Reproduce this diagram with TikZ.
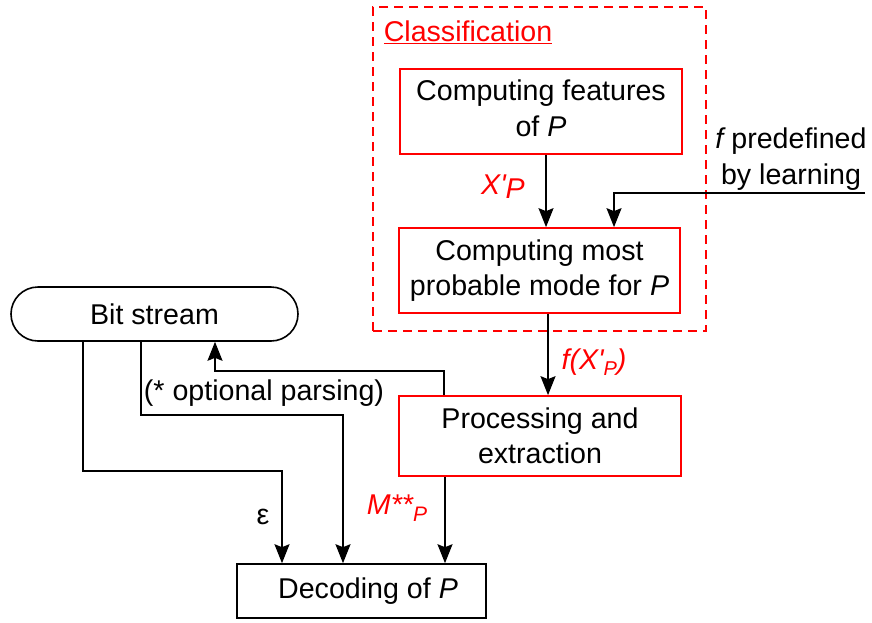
\documentclass[tikz,border=0pt]{standalone}
\usepackage{fontspec}
\setmainfont{Liberation Sans}
\usetikzlibrary{arrows.meta,calc}
\begin{document}
\begin{tikzpicture}[x=1pt,y=-1pt,
  font=\fontsize{28.6}{35.5}\selectfont,
  redbox/.style={draw=red, line width=1.7pt, align=center, inner sep=0pt},
  blackbox/.style={draw=black, line width=1.6pt, align=center, inner sep=0pt},
  arr/.style={draw=black, line width=1.6pt, -{Stealth[length=19pt,width=15pt,inset=3pt]}},
  lbl/.style={text=red, font=\fontsize{28.6}{35}\selectfont\itshape, inner sep=0pt},
  txt/.style={inner sep=0pt, align=center},
]
\useasboundingbox (0,0) rectangle (872,622);

% group box
\node[draw=red, line width=1.6pt, dash pattern=on 9pt off 6pt, minimum width=333pt, minimum height=324pt, inner sep=0pt] (cls) at (539.5,169) {};
\node[txt, text=red] (clslbl) at (468,32) {\underline{Classification}};

% boxes
\node[redbox, minimum width=282pt, minimum height=85pt] (feat) at (541,111.5) {Computing features\\of {\itshape P}\rule[-7pt]{0pt}{0pt}};
\node[redbox, minimum width=281pt, minimum height=85pt] (mode) at (539.5,270.5) {Computing most\\probable mode for {\itshape P}};
\node[redbox, minimum width=282pt, minimum height=80pt] (proc) at (540,436) {Processing and\\extraction};
\node[blackbox, minimum width=249pt, minimum height=54pt] (dec) at (361.5,591) {\hspace*{13pt}Decoding of {\itshape P}};
\node[blackbox, rounded corners=27pt, minimum width=287pt, minimum height=54pt] (bit) at (154.5,314) {Bit stream};

% x positions
\coordinate (xa) at (546,0);
\coordinate (xf) at (614,0);
\coordinate (fin) at (865,193);
\coordinate (xb) at (548,0);
\coordinate (xup) at (444,0);
\coordinate (xupend) at (215,0);
\coordinate (xm) at (445,0);
\coordinate (xo) at (141,0);
\coordinate (xod) at (343,0);
\coordinate (xe) at (83,0);
\coordinate (xed) at (282,0);

% connectors
\draw[arr] (feat.south -| xa) -- (mode.north -| xa);
\draw[arr] (fin) -| (mode.north -| xf);
\draw[arr] (mode.south -| xb) -- (proc.north -| xb);
\draw[arr] (proc.north -| xup) -- ++(0,-24) -| (bit.south -| xupend);
\draw[arr] (proc.south -| xm) -- (dec.north -| xm);
\draw[arr] (bit.south -| xo) -- ++(0,73) -| (dec.north -| xod);
\draw[arr] (bit.south -| xe) -- ++(0,129) -| (dec.north -| xed);

% labels
\node[lbl] (xp) at (503,187) {X\textquotesingle\raisebox{-4pt}{P}};
\node[lbl] (fx) at (594,362) {f(X\textquotesingle\raisebox{-6pt}{\fontsize{20}{20}\selectfont P})};
\node[lbl] (mp) at (397,508) {M**\raisebox{-7pt}{\fontsize{21}{21}\selectfont P}};
\node[txt] (eps) at (263,517) {ε};
\node[txt] (fpre) at (791,159) {{\itshape f} predefined\\by learning};
\node[txt] (opt) at (264,393) {(* optional parsing)};
\end{tikzpicture}
\end{document}
